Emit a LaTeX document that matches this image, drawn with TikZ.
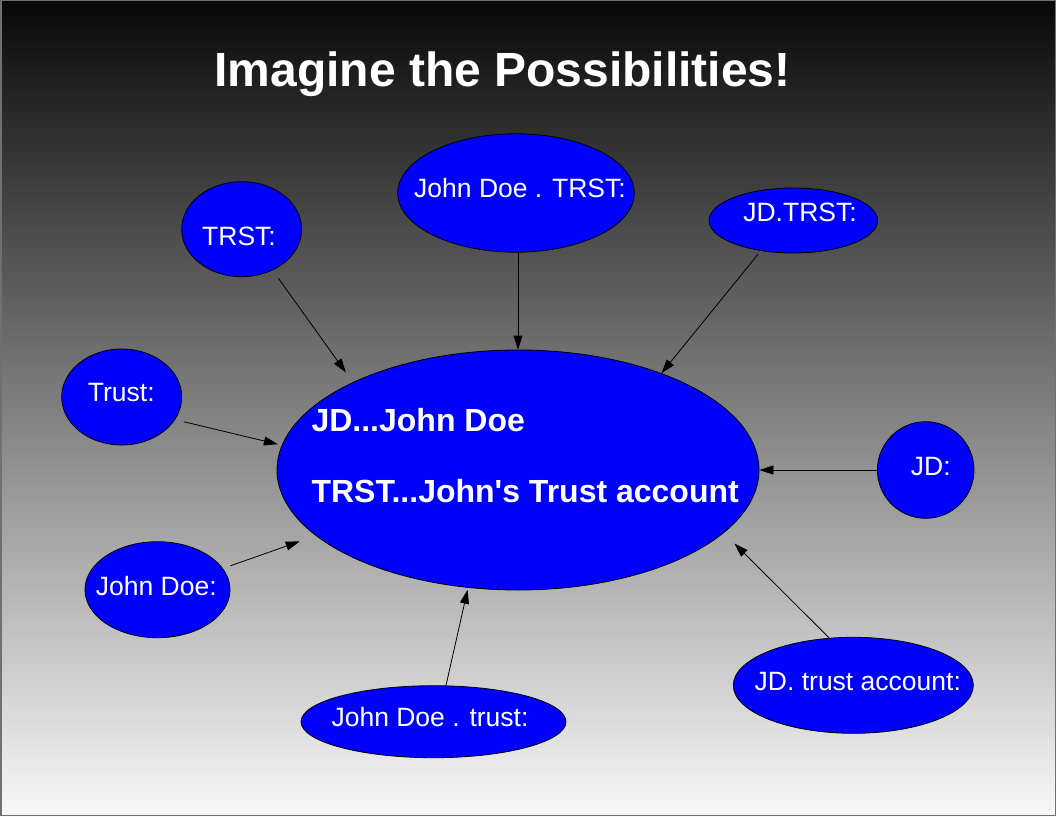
\documentclass[tikz,border=0pt]{standalone}
\usepackage{fontspec}
\newfontfamily\diagfont{Liberation Sans}
\usetikzlibrary{arrows.meta,shapes.geometric}
\definecolor{bgtop}{HTML}{080808}
\definecolor{bgbot}{HTML}{F8F8F8}
\definecolor{framegrey}{HTML}{707070}
\definecolor{blobblue}{HTML}{0000FF}

\begin{document}
\begin{tikzpicture}[x=1pt,y=-1pt,text=white,
    blob/.style={ellipse,draw=black,line width=0.8pt,fill=blobblue,inner sep=0pt},
    blobtext/.style={font=\diagfont\fontsize{26.5}{30}\selectfont},
    hubtext/.style={anchor=base west,font=\diagfont\bfseries\fontsize{32}{38}\selectfont},
    link/.style={draw=black,line width=0.8pt,-{Triangle[length=14pt,width=9pt]}}]
  \useasboundingbox (0,0) rectangle (1056,816);
  \shade[top color=bgtop,bottom color=bgbot] (0,0) rectangle (1056,816);
  \draw[framegrey,line width=1.5pt] (0.75,0.75) rectangle (1055.25,815.25);
  % title
  \node[anchor=base,font=\diagfont\bfseries\fontsize{48}{56}\selectfont] (title) at (502.5,86.5) {Imagine the Possibilities!};
  % hub
  \node[blob,minimum width=482pt,minimum height=240pt] (hub) at (518,470) {};
  \node[hubtext] (jdline) at (308,431) {JD...John Doe};
  \node[hubtext] (trstline) at (308,502) {TRST...John's Trust account};
  % outer ellipses
  \node[blob,minimum width=120pt,minimum height=95pt] (trst) at (241.7,229.2) {};
  \node[blobtext] (trstT) at (239,236) {TRST:};
  \node[blob,minimum width=236.6pt,minimum height=118.4pt] (jdtrst) at (516,193) {};
  \node[blobtext] (jdtrstT) at (520,188) {John Doe . TRST:};
  \node[blob,minimum width=168.6pt,minimum height=65pt] (jdt) at (793.3,220.5) {};
  \node[blobtext] (jdtT) at (800,212.5) {JD.TRST:};
  \node[blob,minimum width=120pt,minimum height=96pt] (trust) at (121.7,397) {};
  \node[blobtext] (trustT) at (121.3,393) {Trust:};
  \node[blob,minimum width=96.6pt,minimum height=96.6pt] (jd) at (925.7,470) {};
  \node[blobtext] (jdT) at (930.8,466.7) {JD:};
  \node[blob,minimum width=145pt,minimum height=96pt] (jdoe) at (157.5,589.7) {};
  \node[blobtext] (jdoeT) at (156.3,586.3) {John Doe:};
  \node[blob,minimum width=265pt,minimum height=72pt] (jdtr) at (433.5,721.7) {};
  \node[blobtext] (jdtrT) at (430,716.7) {John Doe . trust:};
  \node[blob,minimum width=240pt,minimum height=96pt] (jdta) at (853.3,685.3) {};
  \node[blobtext] (jdtaT) at (857.8,682) {JD. trust account:};
  % arrows
  \draw[link,shorten <=10pt,shorten >=12pt] (trst.-53) -- (hub.152);
  \draw[link] (jdtrst.south -| hub.north) -- (hub.north);
  \draw[link,shorten <=4.5pt] (jdt.223) -- (hub.34);
  \draw[link,shorten <=9pt,shorten >=4pt] (trust.-23) -- (hub.174);
  \draw[link] (jd.west) -- (hub.east);
  \draw[link,shorten <=8pt,shorten >=17pt] (jdoe.18) -- (hub.198);
  \draw[link,shorten >=2pt] (jdtr.71) -- (hub.247);
  \draw[link,shorten >=15pt] (jdta.117) -- (hub.-17);
\end{tikzpicture}
\end{document}
